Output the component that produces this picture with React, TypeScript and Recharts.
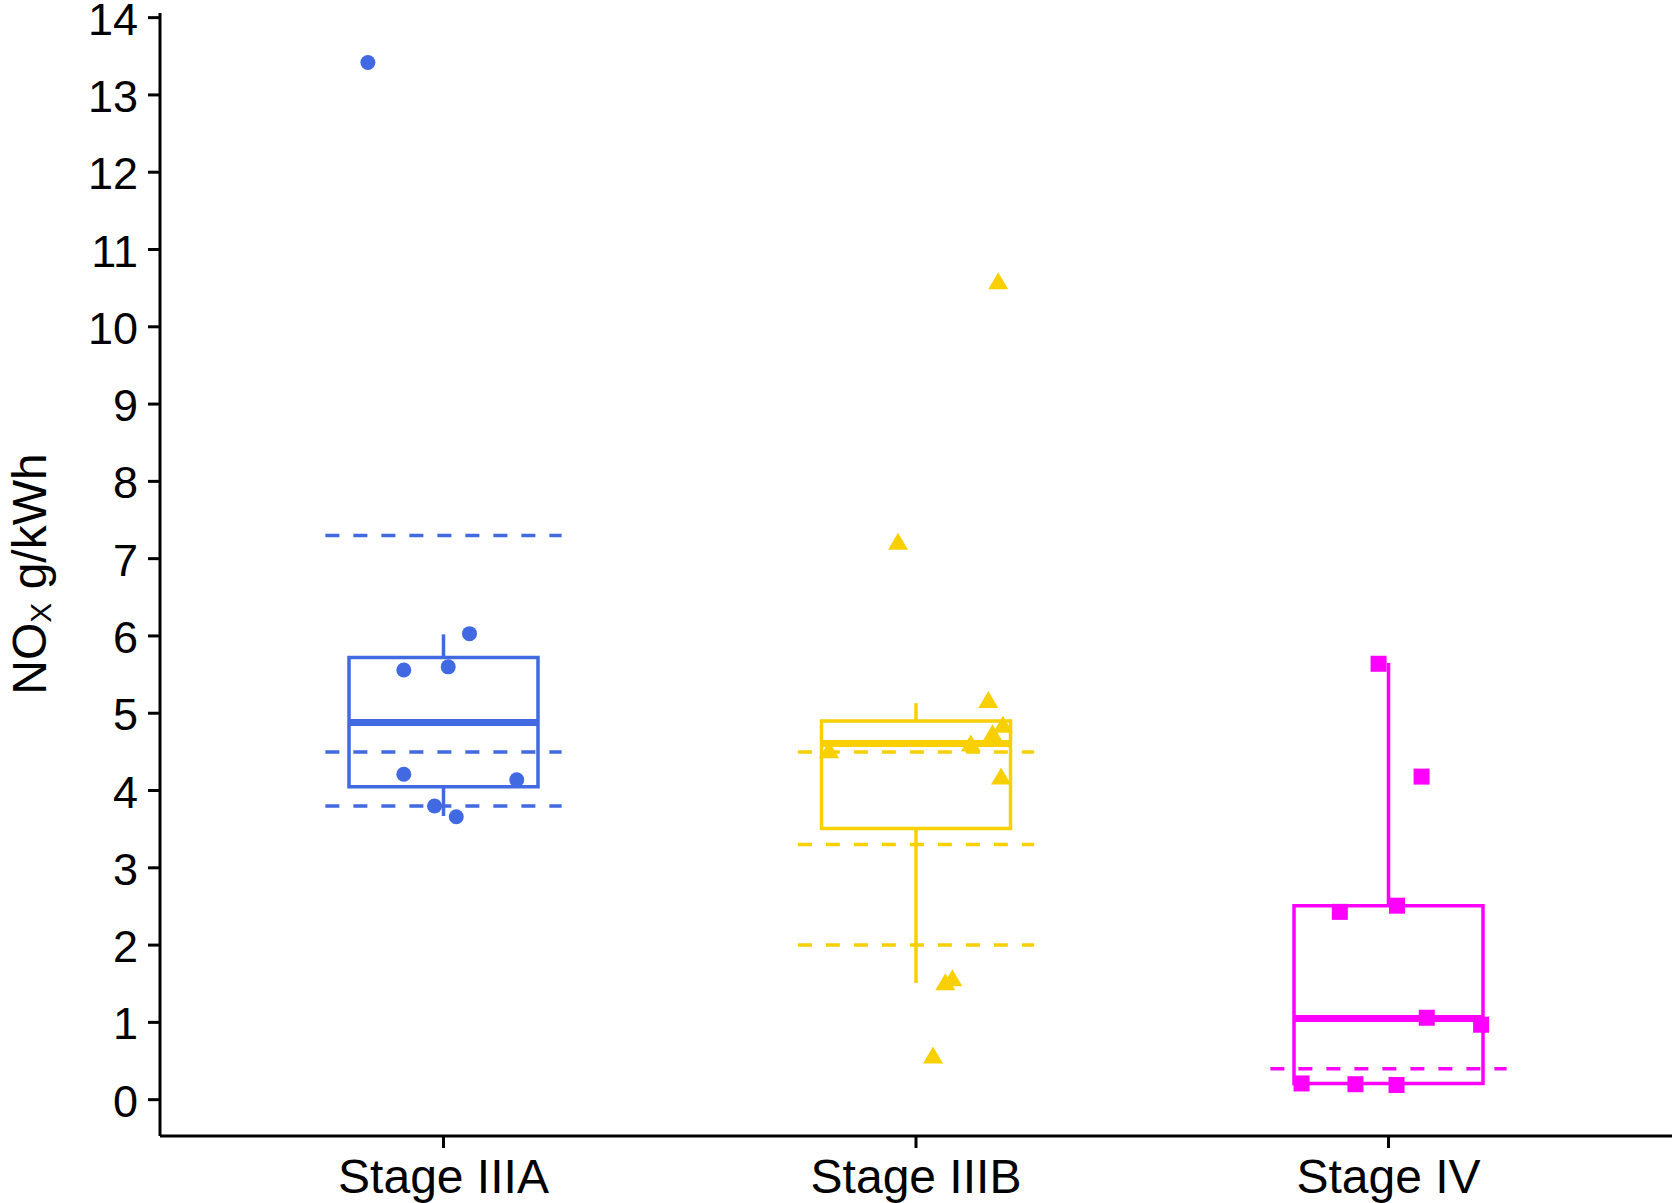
import React from 'react'
import { ScatterChart, Scatter, XAxis, YAxis, ReferenceArea, ReferenceLine } from 'recharts'

const categories = ['Stage IIIA', 'Stage IIIB', 'Stage IV']
const yTicks = [0, 1, 2, 3, 4, 5, 6, 7, 8, 9, 10, 11, 12, 13, 14]

// box stats per stage
const q1 = [4.05, 3.51, 0.21]
const q3 = [5.72, 4.9, 2.51]
const medians = [4.88, 4.61, 1.05]
const whiskerLow = [3.67, 1.51, 0.21]
const whiskerHigh = [6.02, 5.13, 5.65]

// dashed reference levels per stage
const limits = [[7.3, 4.5, 3.8], [4.5, 3.3, 2.0], [0.4]]

const stageIIIA = [
  { x: 0.84, y: 13.42 }, { x: 1.055, y: 6.03 }, { x: 0.916, y: 5.56 }, { x: 1.01, y: 5.6 },
  { x: 0.916, y: 4.21 }, { x: 1.155, y: 4.14 }, { x: 0.981, y: 3.8 }, { x: 1.027, y: 3.66 },
]
const stageIIIB = [
  { x: 2.174, y: 10.59 }, { x: 1.962, y: 7.22 }, { x: 2.153, y: 5.17 }, { x: 2.184, y: 4.85 },
  { x: 2.162, y: 4.74 }, { x: 2.116, y: 4.61 }, { x: 1.816, y: 4.52 }, { x: 2.18, y: 4.18 },
  { x: 2.062, y: 1.52 }, { x: 2.077, y: 1.57 }, { x: 2.036, y: 0.57 },
]
const stageIV = [
  { x: 2.979, y: 5.64 }, { x: 3.07, y: 4.18 }, { x: 3.018, y: 2.51 }, { x: 2.897, y: 2.43 },
  { x: 3.081, y: 1.06 }, { x: 3.196, y: 0.97 }, { x: 2.816, y: 0.21 }, { x: 2.93, y: 0.2 },
  { x: 3.017, y: 0.19 },
]

const colors = ['#4169E1', '#F8D000', '#FF00FF']
const FONT = '"Liberation Sans", Arial, sans-serif'
const BOX_HALF = 0.2
const DASH_HALF = 0.25

const Circle = (p: any) => <circle cx={p.cx} cy={p.cy} r={7.5} fill={colors[0]} />
const Triangle = (p: any) => (
  <path d={`M${p.cx},${p.cy - 9} L${p.cx + 10},${p.cy + 8} L${p.cx - 10},${p.cy + 8} Z`} fill={colors[1]} />
)
const Square = (p: any) => <rect x={p.cx - 8} y={p.cy - 8} width={16} height={16} fill={colors[2]} />

const XTick = ({ x, y, payload }: any) => (
  <text x={x} y={y + 43} textAnchor="middle" fontSize={48} fontFamily={FONT} fill="#000">
    {categories[payload.value - 1]}
  </text>
)

const YTick = ({ x, y, payload }: any) => (
  <text x={x - 8} y={y + 17} textAnchor="end" fontSize={45} fontFamily={FONT} fill="#000">
    {payload.value}
  </text>
)

const YLabel = () => (
  <text x={46} y={574} transform="rotate(-90, 46, 574)" textAnchor="middle" fontSize={48} fontFamily={FONT} fill="#000">
    NO<tspan dy={5} fontSize={30}>X</tspan><tspan dy={-5}> g/kWh</tspan>
  </text>
)

export default function App() {
  return (
    <div style={{ position: 'absolute', left: 0, top: 0, background: '#fff' }}>
      <ScatterChart width={1672} height={1203} margin={{ top: 13, right: 0, bottom: 0, left: 0 }}>
        <XAxis
          type="number"
          dataKey="x"
          domain={[0.4, 3.6]}
          ticks={[1, 2, 3]}
          height={67}
          tickSize={12}
          stroke="#000"
          strokeWidth={3}
          tick={<XTick />}
        />
        <YAxis
          type="number"
          dataKey="y"
          domain={[-0.47, 14.06]}
          ticks={yTicks}
          width={160}
          tickSize={12}
          stroke="#000"
          strokeWidth={3}
          tick={<YTick />}
          label={<YLabel />}
        />
        {categories.map((c, i) => (
          <ReferenceArea
            key={'box' + c}
            x1={i + 1 - BOX_HALF}
            x2={i + 1 + BOX_HALF}
            y1={q1[i]}
            y2={q3[i]}
            fill="none"
            fillOpacity={0}
            stroke={colors[i]}
            strokeWidth={3.5}
          />
        ))}
        {categories.map((c, i) => (
          <ReferenceLine
            key={'wh' + c}
            segment={[{ x: i + 1, y: q3[i] }, { x: i + 1, y: whiskerHigh[i] }]}
            stroke={colors[i]}
            strokeWidth={3.5}
          />
        ))}
        {categories.map((c, i) => (
          <ReferenceLine
            key={'wl' + c}
            segment={[{ x: i + 1, y: whiskerLow[i] }, { x: i + 1, y: q1[i] }]}
            stroke={colors[i]}
            strokeWidth={3.5}
          />
        ))}
        {categories.map((c, i) => (
          <ReferenceLine
            key={'med' + c}
            segment={[{ x: i + 1 - BOX_HALF, y: medians[i] }, { x: i + 1 + BOX_HALF, y: medians[i] }]}
            stroke={colors[i]}
            strokeWidth={7}
          />
        ))}
        {limits.map((lv, i) =>
          lv.map((v) => (
            <ReferenceLine
              key={'lim' + i + '-' + v}
              segment={[{ x: i + 1 - DASH_HALF, y: v }, { x: i + 1 + DASH_HALF, y: v }]}
              stroke={colors[i]}
              strokeWidth={3.5}
              strokeDasharray="14 14"
            />
          ))
        )}
        <Scatter data={stageIIIA} shape={<Circle />} isAnimationActive={false} />
        <Scatter data={stageIIIB} shape={<Triangle />} isAnimationActive={false} />
        <Scatter data={stageIV} shape={<Square />} isAnimationActive={false} />
      </ScatterChart>
    </div>
  )
}
